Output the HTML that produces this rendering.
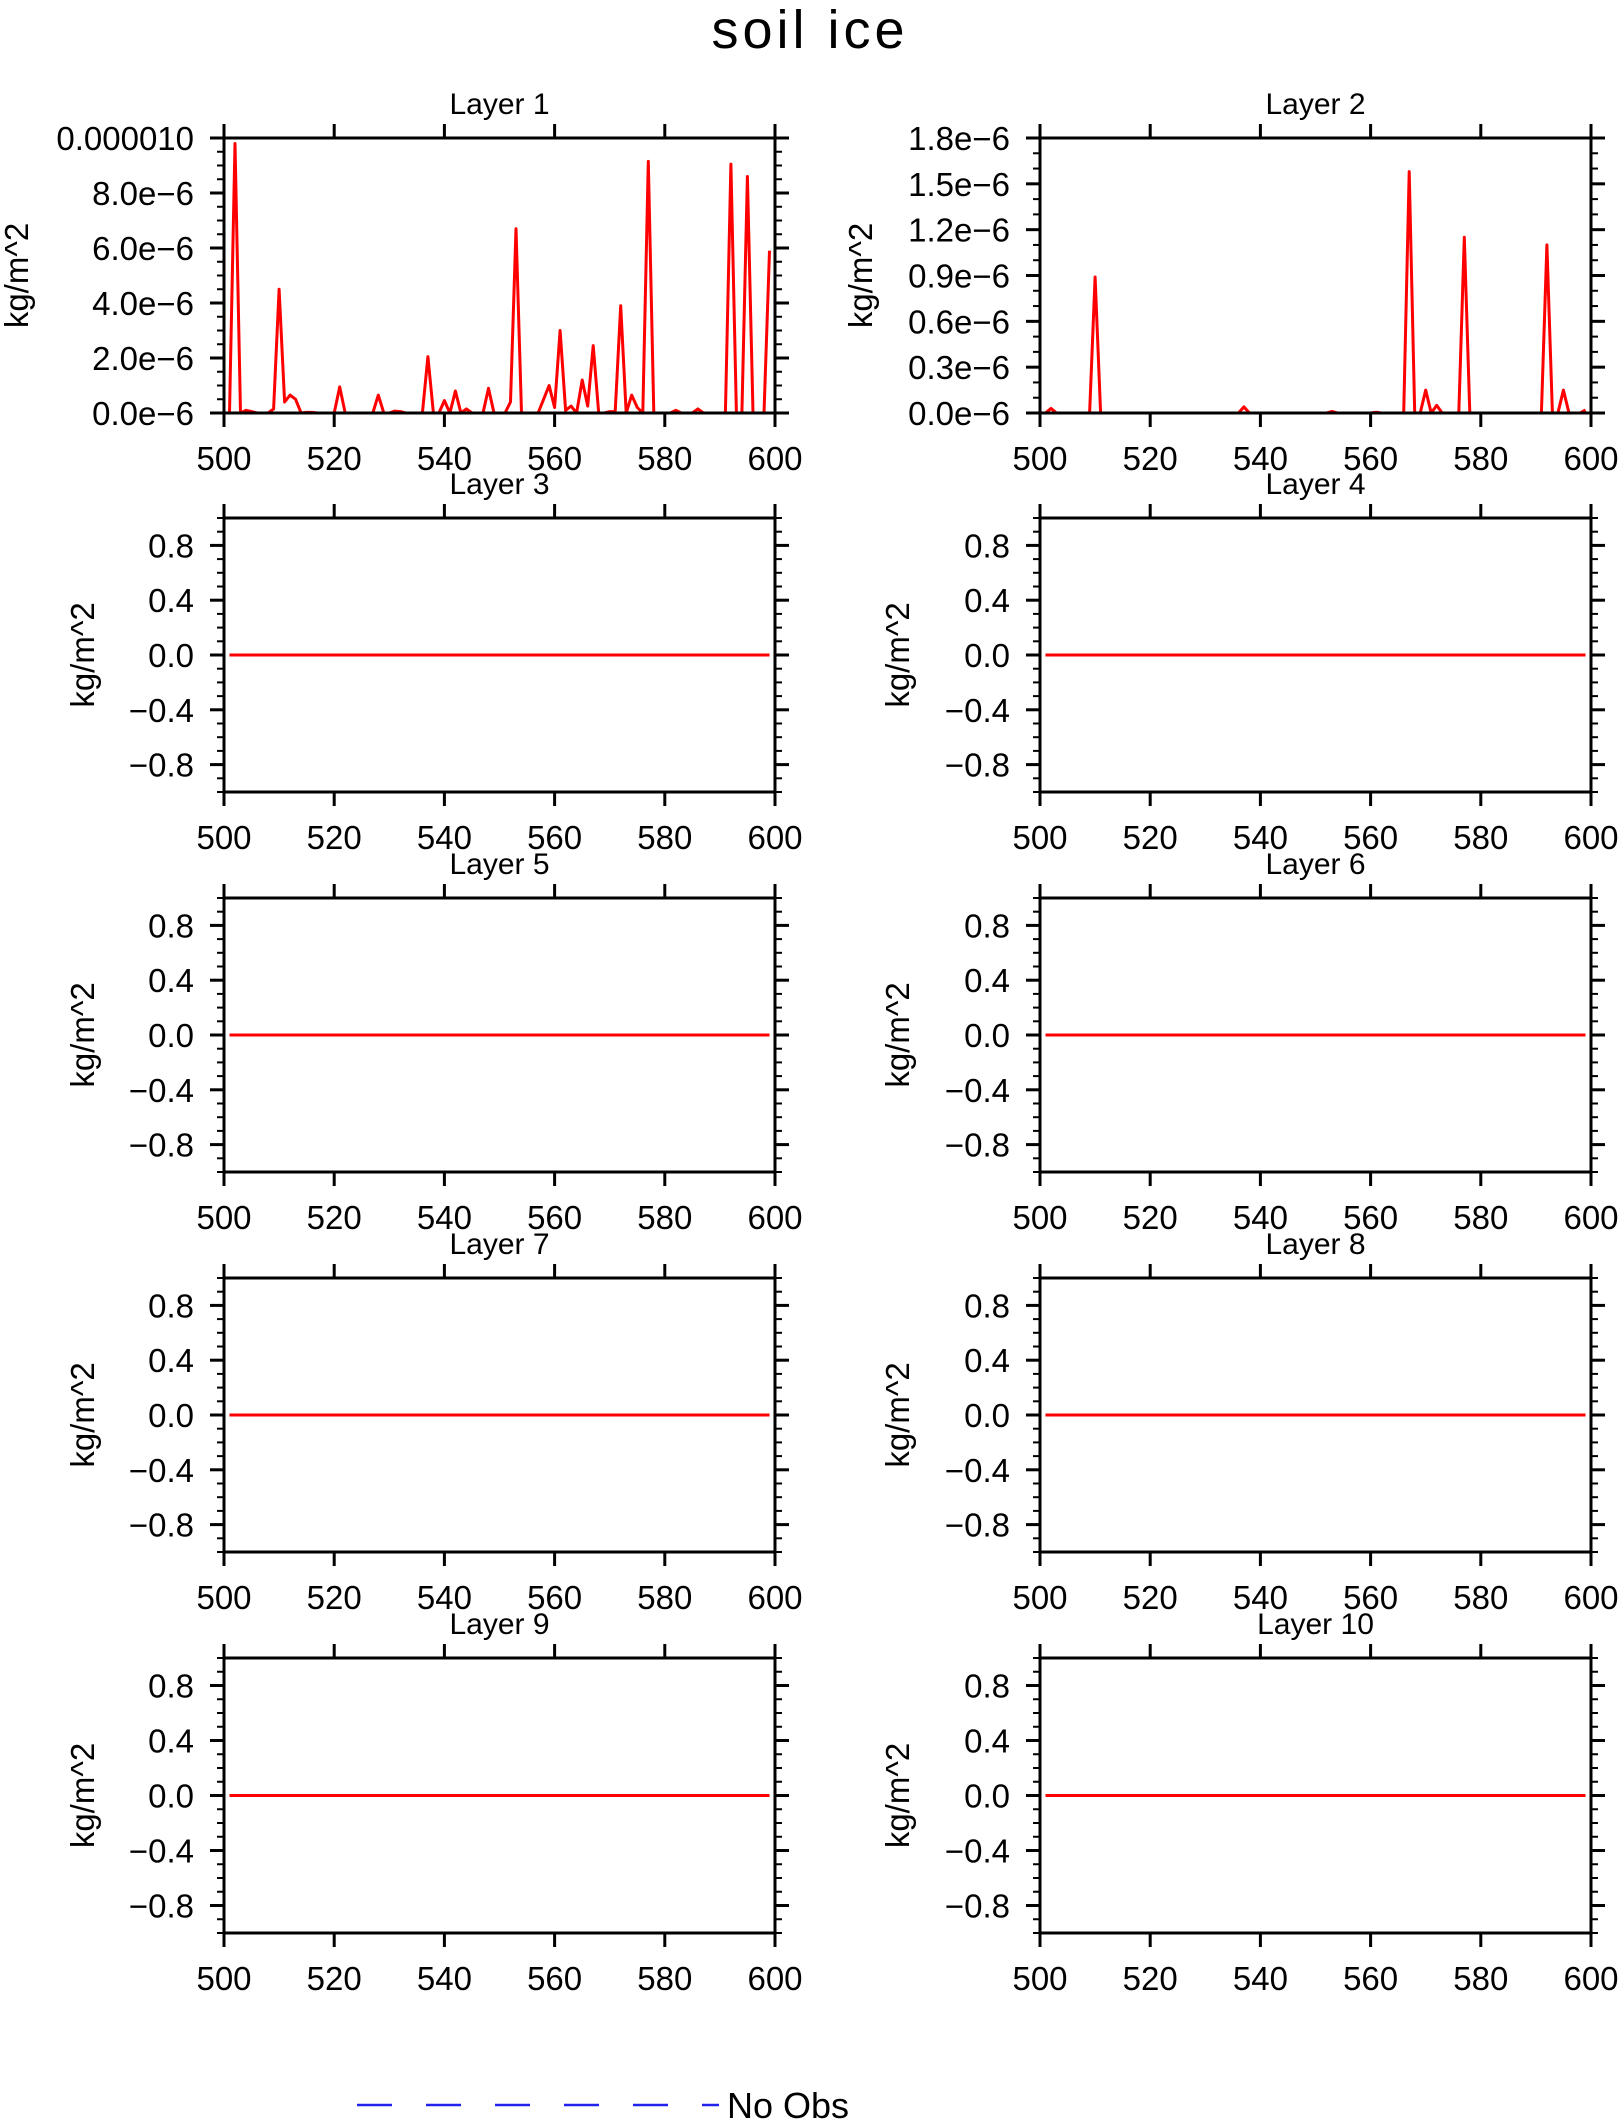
<!DOCTYPE html>
<html><head><meta charset="utf-8"><style>
html,body{margin:0;padding:0;background:#fff;}
svg{display:block;font-family:"Liberation Sans",sans-serif;}
</style></head><body>
<svg id="chart" width="1620" height="2120" viewBox="0 0 1620 2120" xmlns="http://www.w3.org/2000/svg">
<text x="810" y="48" font-size="54" text-anchor="middle" letter-spacing="4" fill="#000">soil ice</text>
<g id="panels"></g>
<g>
<line x1="357" y1="2105" x2="719" y2="2105" stroke="#2222ee" stroke-width="2.5" stroke-dasharray="35,34"/>
<text x="727" y="2118" font-size="36" fill="#000">No Obs</text>
</g>
</svg>
<script>
const days = [];
for (let d = 501; d <= 599; d++) days.push(d);
const layer1 = [0,9.8,0,0.1,0.05,0,0,0,0.15,4.5,
0.4,0.65,0.5,0,0.02,0.02,0,0,0,0,
0.95,0,0,0,0,0,0,0.65,0,0,
0.07,0.05,0,0,0,0,2.05,0,0,0.45,
0,0.8,0,0.15,0,0,0,0.9,0,0,
0,0.4,6.7,0,0,0,0,0.5,1.0,0.2,
3.0,0.1,0.25,0,1.2,0.25,2.45,0,0,0.05,
0.05,3.9,0,0.65,0.2,0,9.15,0,0,0,
0,0.1,0,0,0,0.15,0,0,0,0,
0,9.05,0,0,8.6,0,0,0,5.9];
const layer2 = [0,0.03,0,0,0,0,0,0,0,0.89,
0,0,0,0,0,0,0,0,0,0,
0,0,0,0,0,0,0,0,0,0,
0,0,0,0,0,0,0.04,0,0,0,
0,0,0,0,0,0,0,0,0,0,
0,0,0.01,0,0,0,0,0,0,0,
0.005,0,0,0,0,0,1.58,0,0,0.15,
0,0.05,0,0,0,0,1.15,0,0,0,
0,0,0,0,0,0,0,0,0,0,
0,1.1,0,0,0.15,0,0,0,0.02];
const flatLayer = [0,0,0,0,0,0,0,0,0,0,0,0,0,0,0,0,0,0,0,0,0,0,0,0,0,0,0,0,0,0,0,0,0,0,0,0,0,0,0,0,0,0,0,0,0,0,0,0,0,0,0,0,0,0,0,0,0,0,0,0,0,0,0,0,0,0,0,0,0,0,0,0,0,0,0,0,0,0,0,0,0,0,0,0,0,0,0,0,0,0,0,0,0,0,0,0,0,0,0];
const xTicks = [500,520,540,560,580,600];
const yTicks1 = [0,2,4,6,8,10];
const yLabels1 = ["0.0e\u22126","2.0e\u22126","4.0e\u22126","6.0e\u22126","8.0e\u22126","0.000010"];
const yTicks2 = [0,0.3,0.6,0.9,1.2,1.5,1.8];
const yLabels2 = ["0.0e\u22126","0.3e\u22126","0.6e\u22126","0.9e\u22126","1.2e\u22126","1.5e\u22126","1.8e\u22126"];
const yTicksF = [-0.8,-0.4,0,0.4,0.8];
const yLabelsF = ["\u22120.8","\u22120.4","0.0","0.4","0.8"];

const NS = "http://www.w3.org/2000/svg";
const root = document.getElementById('panels');
function mk(tag, attrs, parent){const e=document.createElementNS(NS,tag);for(const k in attrs)e.setAttribute(k,attrs[k]);parent.appendChild(e);return e;}

const colX = [[224,775],[1040,1591]];
const rowY = [[138,413],[518,792],[898,1172],[1278,1552],[1658,1933]];

function panel(idx, col, row, values, ymin, ymax, ticks, labels, minorStep, yLabelX){
  const [L,R] = colX[col], [T,B] = rowY[row];
  const xs = v => L + (v-500)/100*(R-L);
  const ys = v => B - (v-ymin)/(ymax-ymin)*(B-T);
  const g = mk('g',{},root);
  
  
  const tt = mk('text',{x:(L+R)/2,y:T-24,'font-size':30,'text-anchor':'middle',fill:'#000'},g);
  
  
  tt.textContent = 'Layer  '+idx;
  const nMin = Math.round((ymax-ymin)/minorStep);
  for(let i=0;i<=nMin;i++){
    const y = ys(ymin+i*minorStep);
    const m1 = mk('line',{x1:L-7,x2:L,y1:y,y2:y,stroke:'#000','stroke-width':2},g);
    
    
    const m2 = mk('line',{x1:R,x2:R+7,y1:y,y2:y,stroke:'#000','stroke-width':2},g);
    
    
  }
  ticks.forEach((t,i)=>{
    const y = ys(t);
    const a = mk('line',{x1:L-14,x2:L,y1:y,y2:y,stroke:'#000','stroke-width':3},g);
    
    
    const b = mk('line',{x1:R,x2:R+14,y1:y,y2:y,stroke:'#000','stroke-width':3},g);
    
    
    const lb = mk('text',{x:L-30,y:y+12,'font-size':33,'text-anchor':'end',fill:'#000'},g);
    
    
    lb.textContent = labels[i];
  });
  xTicks.forEach(t=>{
    const x = xs(t);
    const a = mk('line',{x1:x,x2:x,y1:T-14,y2:T,stroke:'#000','stroke-width':3},g);
    
    
    const b = mk('line',{x1:x,x2:x,y1:B,y2:B+14,stroke:'#000','stroke-width':3},g);
    
    
    const lb = mk('text',{x:x,y:B+57,'font-size':33,'text-anchor':'middle',fill:'#000'},g);
    
    
    lb.textContent = t;
  });
  const yl = mk('text',{x:0,y:0,'font-size':33,'text-anchor':'middle',fill:'#000',transform:'translate('+(yLabelX+12)+','+((T+B)/2)+') rotate(-90)'},g);
  
  
  yl.textContent = 'kg/m^2';
  const pts = values.map((v,i)=>xs(days[i]).toFixed(1)+','+ys(v).toFixed(1)).join(' ');
  const pl = mk('polyline',{points:pts,fill:'none',stroke:'#ff0000','stroke-width':3,'stroke-linejoin':'round'},g);
  
  
  const fr = mk('rect',{x:L,y:T,width:R-L,height:B-T,fill:'none',stroke:'#000','stroke-width':3},g);
  
  
}
panel(1,0,0,layer1,0,10,yTicks1,yLabels1,0.5,16);
panel(2,1,0,layer2,0,1.8,yTicks2,yLabels2,0.1,860);
for(let k=3;k<=10;k++){
  const col=(k-1)%2, row=Math.floor((k-1)/2);
  panel(k,col,row,flatLayer,-1,1,yTicksF,yLabelsF,0.1,col===0?82:897);
}
</script>
</body></html>
